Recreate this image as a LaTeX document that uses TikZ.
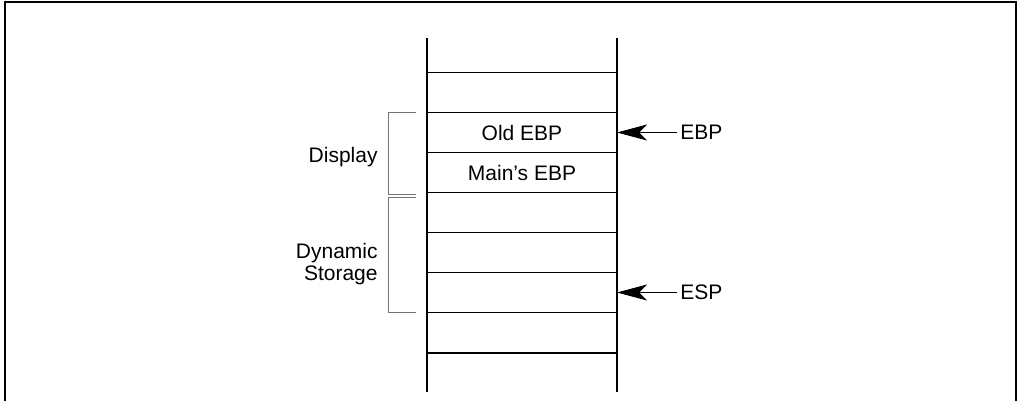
\documentclass[tikz,border=0pt]{standalone}
\usepackage{fontspec}
\setmainfont{Liberation Sans}
\usepackage{tikz}
\usetikzlibrary{arrows.meta,positioning}

\begin{document}
\begin{tikzpicture}[x=0.5pt,y=-0.5pt,node distance=0pt,
    font=\fontsize{10.5}{11}\selectfont, inner sep=1.5pt,
    cell/.style={draw,line width=0.5pt,minimum width=95pt,minimum height=20pt,outer sep=0pt},
    wall/.style={line width=1pt},
    brace/.style={draw=black!55,line width=0.5pt},
    ptr/.style={-{Stealth[length=15pt,width=8pt,inset=4pt]},line width=0.5pt}]
    \useasboundingbox (0,0) rectangle (1018,401);
    \draw[line width=1pt] (5,401) -- (5,2) -- (1016,2) -- (1016,401);
    % the stack
    \node[cell] (c1) at (522,92.5) {};
    \node[cell,below=of c1] (c2) {Old EBP};
    \node[cell,below=of c2] (c3) {Main’s EBP};
    \node[cell,below=of c3] (c4) {};
    \node[cell,below=of c4] (c5) {};
    \node[cell,below=of c5] (c6) {};
    \node[cell,below=of c6] (c7) {};
    \draw[wall] ([yshift=17pt]c1.north west) -- ([yshift=-19.5pt]c7.south west);
    \draw[wall] ([yshift=17pt]c1.north east) -- ([yshift=-19.5pt]c7.south east);
    \draw[wall] (c7.south west) -- (c7.south east);
    % brackets
    \draw[brace] ([xshift=-5.5pt]c2.north west) -| ([xshift=-19.5pt,yshift=-1pt]c3.south west) -- ([xshift=-5.5pt,yshift=-1pt]c3.south west);
    \draw[brace] ([xshift=-5.5pt,yshift=-2.5pt]c4.north west) -| ([xshift=-19.5pt]c6.south west) -- ([xshift=-5.5pt]c6.south west);
    \node[anchor=east] (disp) at (381,157) {Display};
    \node[anchor=east,align=right] (dyn) at (381,264) {Dynamic\\Storage};
    % pointers
    \node[right=30pt of c2] (ebp) {EBP};
    \node[right=30pt of c6] (esp) {ESP};
    \path[ptr]
    (ebp) edge (c2)
    (esp) edge (c6);
\end{tikzpicture}
\end{document}
